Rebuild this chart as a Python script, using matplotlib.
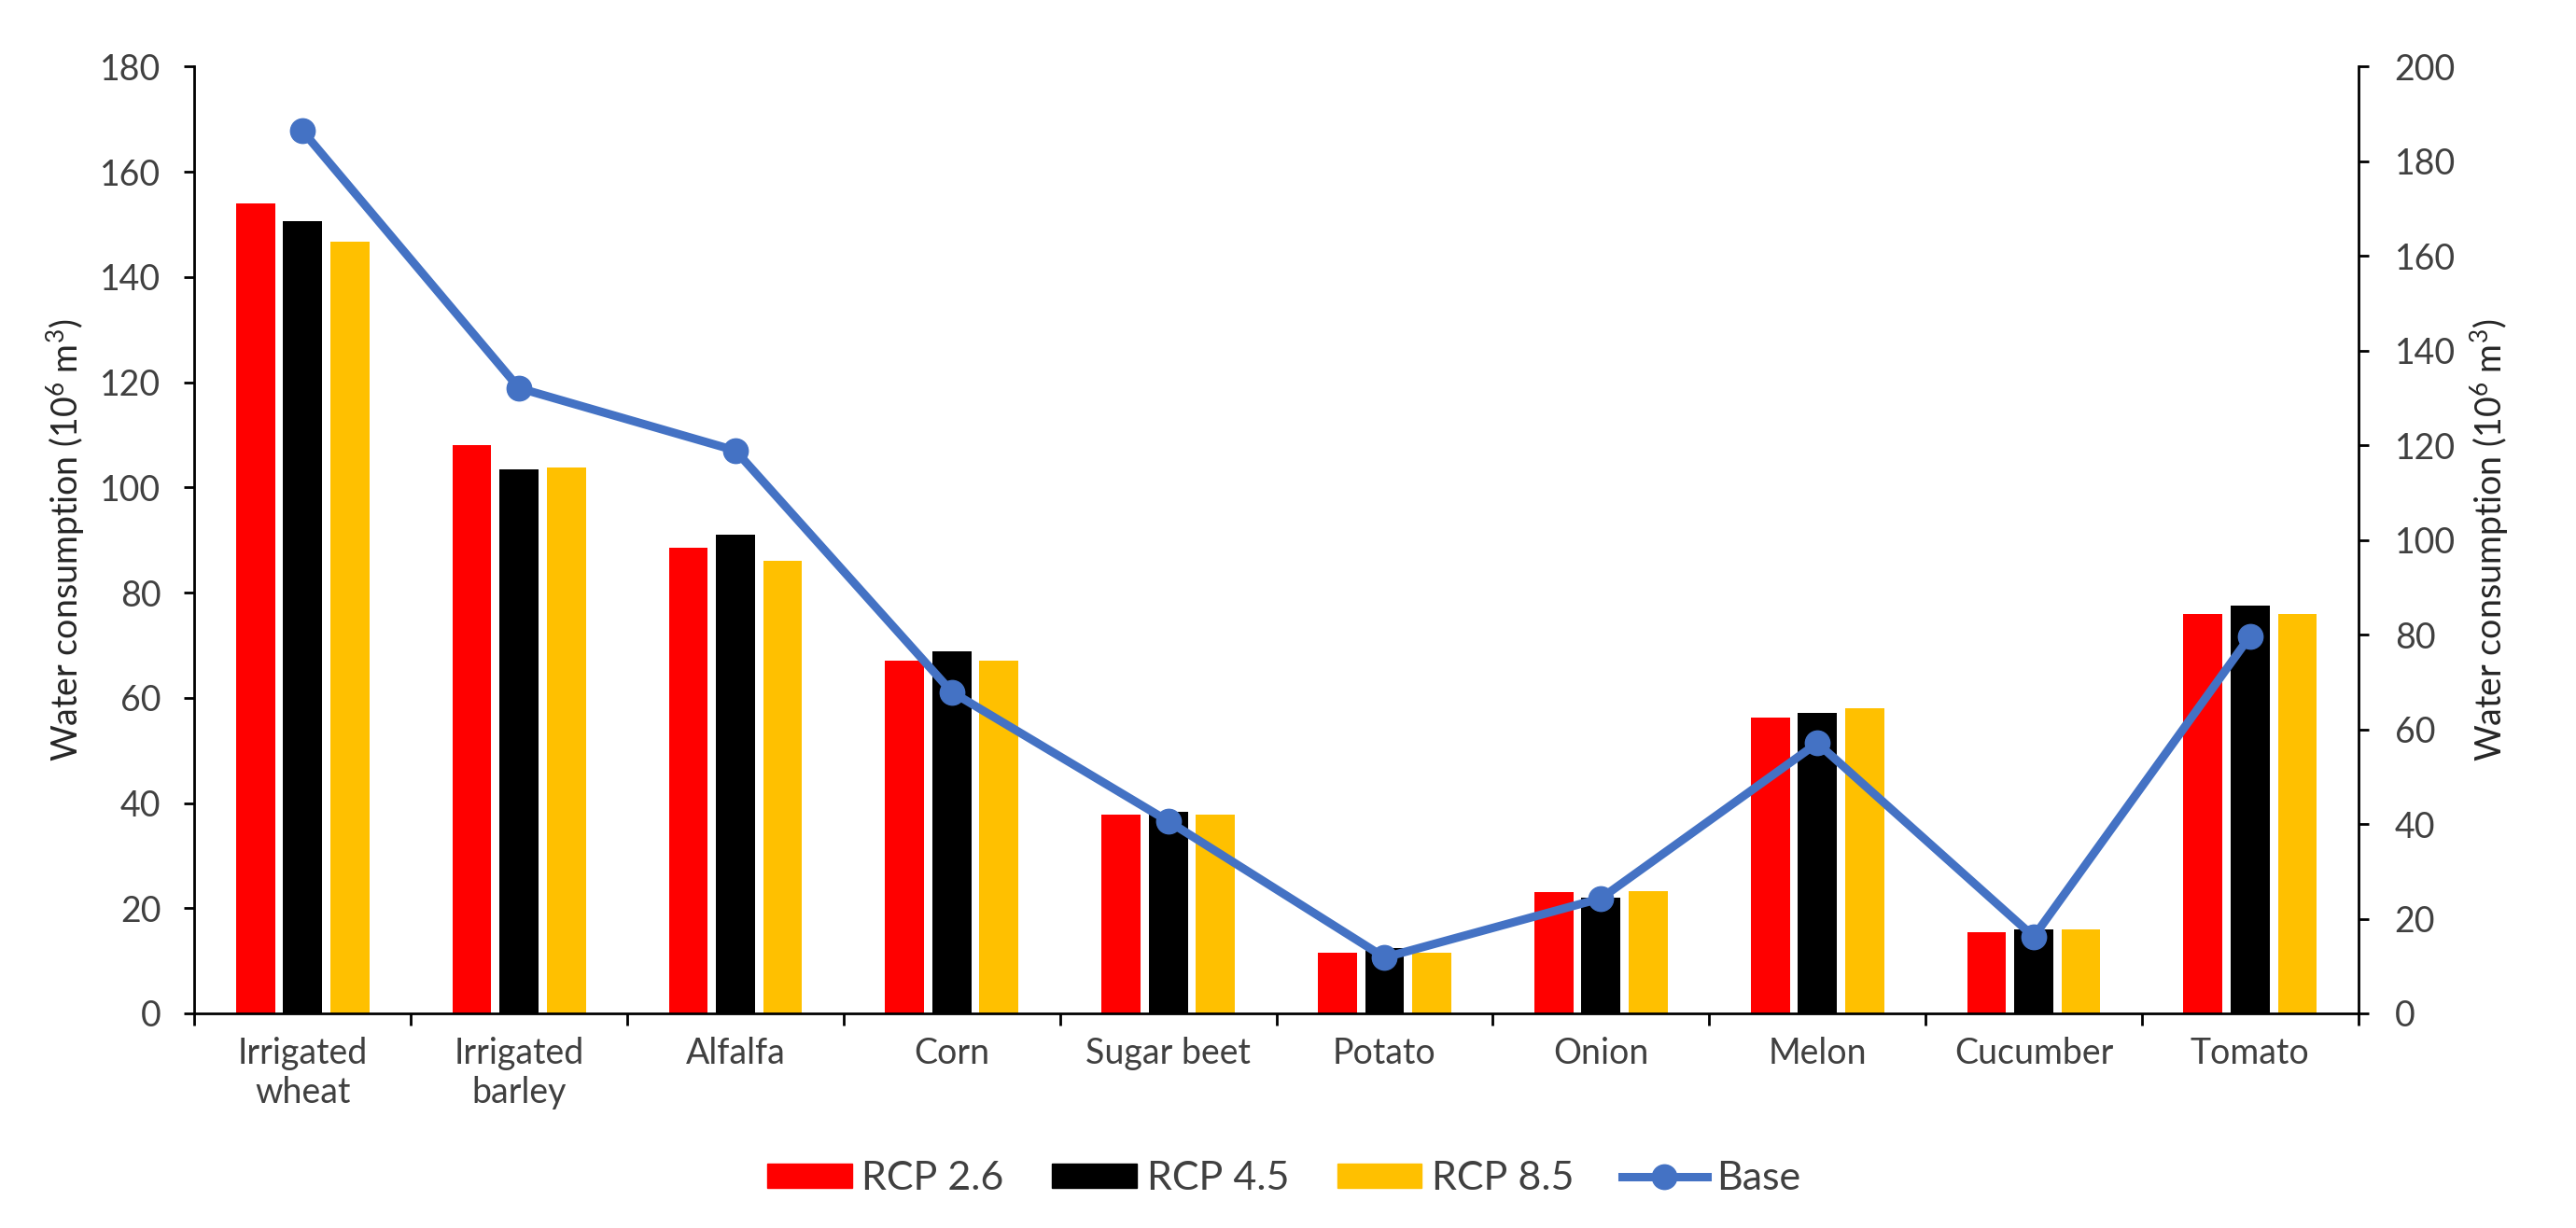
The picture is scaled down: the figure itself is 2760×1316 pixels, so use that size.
import numpy as np
import matplotlib.pyplot as plt
from matplotlib.patches import Patch
from matplotlib.lines import Line2D

plt.rcParams['font.family'] = ['Lato', 'DejaVu Sans']
plt.rcParams['mathtext.default'] = 'regular'

# data
crops = ['Irrigated\nwheat', 'Irrigated\nbarley', 'Alfalfa', 'Corn', 'Sugar beet',
         'Potato', 'Onion', 'Melon', 'Cucumber', 'Tomato']
rcp26 = [154.0, 108.0, 88.6, 67.0, 37.7, 11.6, 23.0, 56.2, 15.5, 76.0]
rcp45 = [150.6, 103.4, 91.1, 68.9, 38.3, 12.5, 22.0, 57.2, 16.0, 77.5]
rcp85 = [146.8, 103.7, 86.1, 67.0, 37.7, 11.6, 23.3, 58.1, 16.0, 76.0]
base = [186.4, 132.1, 118.9, 67.9, 40.6, 11.8, 24.3, 57.1, 16.2, 79.7]

c26 = '#FF0000'
c45 = '#000000'
c85 = '#FFC000'
cbase = '#4472C4'
tick_col = '#404040'
lab_col = '#262626'
fs = 27

fig = plt.figure(figsize=(27.6, 13.16), dpi=100)
ax = fig.add_axes([0.0755, 0.1748, 0.84, 0.7709])

x = np.arange(len(crops))
w = 0.18
off = 0.218
ax.bar(x - off, rcp26, w, color=c26, zorder=2)
ax.bar(x, rcp45, w, color=c45, zorder=2)
ax.bar(x + off, rcp85, w, color=c85, zorder=2)

ax.set_xlim(-0.5, len(crops) - 0.5)
ax.set_ylim(0, 180)
ax.set_yticks(np.arange(0, 181, 20))
ax.set_xticks(x)
ax.set_xticklabels(crops)
ax.set_xticks(np.arange(-0.5, len(crops), 1), minor=True)
ax.tick_params(axis='x', which='major', length=0, pad=18, labelsize=fs, labelcolor=tick_col)
ax.tick_params(axis='x', which='minor', length=9, width=2, direction='out')
ax.tick_params(axis='y', length=8, width=2, direction='out', pad=18,
               labelsize=fs, labelcolor=tick_col)
for s in ['top', 'right']:
    ax.spines[s].set_visible(False)
for s in ['left', 'bottom']:
    ax.spines[s].set_linewidth(2)
ax.set_ylabel('Water consumption (10$^6$ m$^3$)', fontsize=fs, color=lab_col, labelpad=10)

ax2 = ax.twinx()
ax2.plot(x, base, color=cbase, lw=6.5, marker='o', ms=19, zorder=3)
ax2.set_ylim(0, 200)
ax2.set_yticks(np.arange(0, 201, 20))
ax2.tick_params(axis='y', length=8, width=2, direction='out', pad=20,
                labelsize=fs, labelcolor=tick_col)
for s in ['top', 'left', 'bottom']:
    ax2.spines[s].set_visible(False)
ax2.spines['right'].set_linewidth(2)
ax2.set_ylabel('Water consumption (10$^6$ m$^3$)', fontsize=fs, color=lab_col, labelpad=10)

handles = [Patch(color=c26), Patch(color=c45), Patch(color=c85),
           Line2D([], [], color=cbase, lw=6.5, marker='o', ms=19)]
fig.legend(handles, ['RCP 2.6', 'RCP 4.5', 'RCP 8.5', 'Base'], loc='center',
           bbox_to_anchor=(0.4985, 0.04), ncol=4, frameon=False, fontsize=31,
           handlelength=2.1, handleheight=0.55, handletextpad=0.25, columnspacing=1.2,
           labelcolor=tick_col)

fig.savefig('out.png', dpi=100)
